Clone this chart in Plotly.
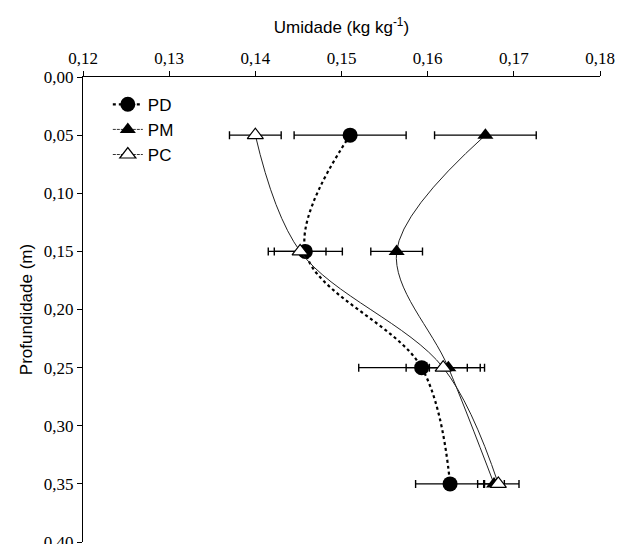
import plotly.graph_objects as go

depth = [0.05, 0.15, 0.25, 0.35]

pd_vals = [0.1510, 0.1458, 0.1593, 0.1626]
pd_err = [0.0065, 0.0043, 0.0073, 0.0040]

pm_vals = [0.1667, 0.1564, 0.1624, 0.1677]
pm_err = [0.0059, 0.0030, 0.0022, 0.0012]

pc_vals = [0.1400, 0.1452, 0.1618, 0.1682]
pc_err = [0.0030, 0.0030, 0.0043, 0.0024]

x_ticks = [0.12, 0.13, 0.14, 0.15, 0.16, 0.17, 0.18]
y_ticks = [0.00, 0.05, 0.10, 0.15, 0.20, 0.25, 0.30, 0.35, 0.40]

fig = go.Figure()

err_style = dict(type="data", visible=True, color="black", thickness=1.4, width=4)

pd_marker = dict(symbol="circle", size=15, color="black")
pm_marker = dict(symbol="triangle-up", size=14, color="black")
pc_marker = dict(symbol="triangle-up", size=14, color="white",
                 line=dict(color="black", width=1.2))

# data traces (legend handled separately)
fig.add_trace(go.Scatter(
    x=pd_vals, y=depth, name="PD", mode="lines+markers", showlegend=False,
    line=dict(color="black", width=2.2, dash="dot", shape="spline", smoothing=1),
    marker=pd_marker,
    error_x=dict(array=pd_err, **err_style),
))
fig.add_trace(go.Scatter(
    x=pm_vals, y=depth, name="PM", mode="lines+markers", showlegend=False,
    line=dict(color="#222222", width=1, shape="spline", smoothing=1),
    marker=pm_marker,
    error_x=dict(array=pm_err, **err_style),
))
fig.add_trace(go.Scatter(
    x=pc_vals, y=depth, name="PC", mode="lines+markers", showlegend=False,
    line=dict(color="#222222", width=1, shape="spline", smoothing=1),
    marker=pc_marker,
    error_x=dict(array=pc_err, **err_style),
))

# legend entries
fig.add_trace(go.Scatter(x=[None], y=[None], name="PD", mode="lines+markers",
                         line=dict(color="black", width=2.2, dash="dot"), marker=pd_marker))
fig.add_trace(go.Scatter(x=[None], y=[None], name="PM", mode="lines+markers",
                         line=dict(color="#333333", width=1, dash="3px,1px"), marker=pm_marker))
fig.add_trace(go.Scatter(x=[None], y=[None], name="PC", mode="lines+markers",
                         line=dict(color="#333333", width=1, dash="3px,1px"), marker=pc_marker))

tick_font = dict(family="Liberation Serif", size=17, color="black")
title_font = dict(family="Liberation Sans", size=17, color="black")

fig.update_layout(
    width=618, height=536,
    margin=dict(l=75, r=26, t=69, b=2),
    paper_bgcolor="white", plot_bgcolor="white",
    separators=",.",
    showlegend=True,
    legend=dict(x=0.048, y=0.979, xanchor="left", yanchor="top",
                font=dict(family="Liberation Sans", size=17, color="black"),
                bgcolor="rgba(0,0,0,0)", tracegroupgap=0, itemwidth=30),
    xaxis=dict(
        side="top", range=[0.12, 0.18], tickvals=x_ticks, tickformat=".2f",
        showgrid=False, zeroline=False, showline=True, linecolor="black", linewidth=1,
        ticks="outside", ticklen=5, tickcolor="black", tickwidth=1,
        tickfont=tick_font, ticklabeloverflow="allow", automargin=False,
        title=dict(text="Umidade (kg kg<sup>-1</sup>)", font=title_font, standoff=11),
    ),
    yaxis=dict(
        range=[0.40, 0.0], tickvals=y_ticks, tickformat=".2f",
        showgrid=False, zeroline=False, showline=True, linecolor="black", linewidth=1,
        ticks="outside", ticklen=5, tickcolor="black", tickwidth=1,
        tickfont=tick_font, ticklabeloverflow="allow", automargin=False,
        title=dict(text="Profundidade (m)", font=title_font, standoff=6),
    ),
)

fig.write_html("out.html")
